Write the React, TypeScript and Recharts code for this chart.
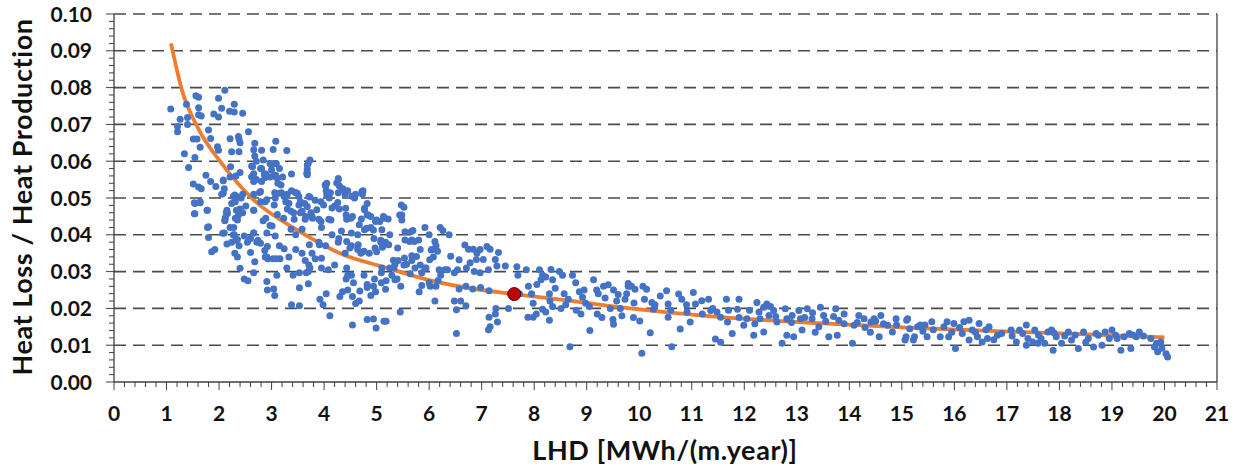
import { ComposedChart, Line, ReferenceLine, Scatter, XAxis, YAxis } from "recharts";

// axis ticks (major); minor ticks are derived below
const xMajor = [0, 1, 2, 3, 4, 5, 6, 7, 8, 9, 10, 11, 12, 13, 14, 15, 16, 17, 18, 19, 20, 21];
const yMajor = [0, 0.01, 0.02, 0.03, 0.04, 0.05, 0.06, 0.07, 0.08, 0.09, 0.1];

// LHD [MWh/(m.year)] vs heat loss ratio
const cloudSteep: [number, number][] = [
  [1.08, 0.0742], [1.21, 0.0694], [1.21, 0.068], [1.26, 0.0714], [1.38, 0.0755], [1.4, 0.0719], [1.4, 0.07],
  [1.34, 0.062], [1.42, 0.0583], [1.51, 0.066], [1.56, 0.0778], [1.61, 0.0774], [1.61, 0.0745], [1.61, 0.0726],
  [1.66, 0.0723], [1.54, 0.061], [1.58, 0.066], [1.64, 0.0638], [1.51, 0.0538], [1.61, 0.053], [1.66, 0.0525],
  [1.75, 0.0562], [1.8, 0.0685], [1.84, 0.0662], [1.84, 0.0545], [1.94, 0.0531], [1.97, 0.0639], [1.99, 0.063],
  [1.53, 0.0487], [1.64, 0.0487], [1.53, 0.0457], [1.78, 0.0467], [1.78, 0.042], [1.9, 0.0728], [1.99, 0.0771],
  [1.99, 0.072], [2.05, 0.0744], [2.11, 0.0793], [2.2, 0.0736], [2.29, 0.0755], [2.29, 0.0734], [2.45, 0.073],
  [2.21, 0.0661], [2.37, 0.0667], [2.38, 0.066], [2.4, 0.065], [2.24, 0.0626], [2.38, 0.0626], [2.56, 0.068],
  [2.68, 0.0649], [2.66, 0.0631], [2.68, 0.0614], [2.71, 0.06], [2.62, 0.0587], [2.81, 0.063], [2.22, 0.0585],
  [2.21, 0.0557], [2.4, 0.0569], [2.08, 0.0547], [2.08, 0.0513], [2.05, 0.051], [2.27, 0.0504], [2.33, 0.0504],
  [2.45, 0.051], [2.66, 0.051], [2.24, 0.0485], [2.33, 0.0467], [2.14, 0.046], [2.11, 0.0438], [2.51, 0.0478],
  [2.66, 0.0467], [2.77, 0.0515], [2.79, 0.049], [2.88, 0.049], [2.84, 0.0438], [2.79, 0.058], [2.66, 0.0566],
  [2.71, 0.055], [2.86, 0.0566], [2.87, 0.0555], [2.97, 0.0557],
  [1.54, 0.0485], [1.64, 0.049], [1.54, 0.0457], [1.77, 0.0467], [1.8, 0.0422], [1.8, 0.0393], [1.86, 0.0354],
  [1.92, 0.036], [2.07, 0.0404], [2.11, 0.044], [2.16, 0.0458], [2.21, 0.042], [2.29, 0.04], [2.24, 0.038],
  [2.35, 0.0387], [2.35, 0.044], [2.37, 0.0454], [2.4, 0.047], [2.29, 0.0505], [2.48, 0.0397], [2.54, 0.038],
  [2.6, 0.039], [2.66, 0.0405], [2.72, 0.038], [2.79, 0.0377], [2.68, 0.0327], [2.6, 0.0352], [2.35, 0.034],
  [2.4, 0.0309], [2.48, 0.028], [2.55, 0.0275], [2.66, 0.0297], [2.87, 0.0357], [2.88, 0.034], [2.93, 0.0335],
  [2.91, 0.0273], [2.92, 0.025],
  [2.08, 0.0549], [2.1, 0.0525], [2.15, 0.0467], [2.12, 0.0447], [2.1, 0.0405], [2.15, 0.0375], [2.3, 0.0508],
  [2.31, 0.049], [2.32, 0.056], [2.42, 0.05], [2.45, 0.046], [2.31, 0.0445], [2.28, 0.042], [2.27, 0.04],
  [2.32, 0.0385], [2.38, 0.037], [2.3, 0.035], [2.62, 0.0558], [2.64, 0.0585], [2.66, 0.0545], [2.66, 0.0467],
  [2.66, 0.0405], [2.74, 0.0385], [2.84, 0.0603], [2.81, 0.058], [2.89, 0.0565], [2.81, 0.0545], [2.79, 0.0518],
  [2.91, 0.0495], [2.89, 0.0445], [2.91, 0.0405], [2.92, 0.0368], [2.91, 0.034],
];

const cloudKnee: [number, number][] = [
  [3.03, 0.0632], [3.08, 0.0654], [3.29, 0.0629], [2.97, 0.0594], [3.0, 0.059], [3.06, 0.0594], [3.08, 0.0562],
  [3.04, 0.056], [3.1, 0.0555], [3.12, 0.054], [3.38, 0.0565], [3.7, 0.0596], [3.68, 0.0578], [3.73, 0.0603],
  [3.68, 0.0563], [2.97, 0.0425], [3.06, 0.0514], [3.07, 0.05], [3.19, 0.0514], [3.3, 0.051], [3.27, 0.049],
  [3.38, 0.052], [3.45, 0.0515], [3.52, 0.0504], [3.55, 0.049], [3.63, 0.0485], [3.73, 0.0503], [4.02, 0.0535],
  [4.04, 0.052], [3.94, 0.049], [4.1, 0.05], [4.27, 0.0553], [4.29, 0.0533], [4.36, 0.0525], [4.45, 0.052],
  [4.6, 0.051], [4.74, 0.052], [4.2, 0.0478], [4.29, 0.047], [4.42, 0.0454], [4.54, 0.045], [4.71, 0.0443],
  [4.82, 0.0485], [4.89, 0.045], [5.13, 0.045], [3.3, 0.047], [3.42, 0.046], [3.55, 0.046], [3.65, 0.045],
  [3.75, 0.046], [3.23, 0.0445],
  [3.03, 0.0335], [3.04, 0.0253], [3.06, 0.0235], [3.1, 0.029], [3.16, 0.0335], [3.29, 0.031], [3.41, 0.029],
  [3.53, 0.0297], [3.53, 0.0256], [3.38, 0.021], [3.53, 0.0207], [3.66, 0.0297], [3.73, 0.031], [3.83, 0.0335],
  [3.95, 0.031], [3.92, 0.0225], [3.98, 0.021], [4.11, 0.018], [4.3, 0.0232], [4.35, 0.0245], [4.42, 0.028],
  [4.45, 0.029], [4.54, 0.0232], [4.6, 0.0213], [4.54, 0.0155], [4.67, 0.022], [4.82, 0.0265], [4.82, 0.0257],
  [4.89, 0.0235], [4.98, 0.0245], [4.82, 0.017], [4.94, 0.0171], [4.99, 0.0147], [5.14, 0.0165], [5.18, 0.0275],
  [4.96, 0.028],
  [3.0, 0.0576], [3.09, 0.0594], [3.15, 0.058], [3.21, 0.0557], [3.18, 0.0535], [3.15, 0.0513], [3.05, 0.0481],
  [3.11, 0.0455], [3.01, 0.0424], [3.07, 0.0397], [3.15, 0.037], [3.24, 0.0362], [3.09, 0.0335], [3.24, 0.0504],
  [3.33, 0.0486], [3.37, 0.0464], [3.43, 0.0442], [3.49, 0.0513], [3.52, 0.0481], [3.58, 0.0464], [3.64, 0.0442],
  [3.68, 0.0477], [3.71, 0.0504], [3.68, 0.059], [3.68, 0.0567], [3.37, 0.0415], [3.46, 0.04], [3.58, 0.0415],
  [3.77, 0.045], [3.86, 0.0468], [3.9, 0.0442], [4.03, 0.0533], [4.05, 0.0508], [3.95, 0.042], [4.09, 0.0442],
  [4.15, 0.0473], [4.24, 0.0541], [4.27, 0.0514], [4.4, 0.0509], [4.43, 0.0442], [4.33, 0.041], [4.15, 0.04],
  [4.27, 0.038], [3.9, 0.038], [4.03, 0.037], [3.77, 0.035], [3.58, 0.035], [3.46, 0.036], [3.64, 0.033],
  [3.33, 0.034], [4.52, 0.0405], [4.58, 0.05], [4.73, 0.051], [4.77, 0.0468], [4.84, 0.0454], [4.64, 0.04],
  [4.77, 0.0414], [4.89, 0.042], [5.0, 0.044], [5.1, 0.0414], [4.95, 0.039], [5.08, 0.038], [4.64, 0.036],
  [4.52, 0.037], [4.4, 0.035], [4.7, 0.035], [4.86, 0.035], [5.0, 0.0354], [5.11, 0.0368],
  [3.67, 0.0567], [4.05, 0.054], [4.27, 0.055], [4.35, 0.0523], [4.12, 0.0514], [4.53, 0.0505], [4.72, 0.0518],
  [3.83, 0.0494], [3.99, 0.0481], [4.26, 0.0488], [4.41, 0.0472], [4.77, 0.0472], [4.82, 0.0454], [4.98, 0.0436],
  [5.15, 0.0445], [5.47, 0.0481], [5.44, 0.0454], [3.78, 0.0445], [3.94, 0.0436], [4.13, 0.044], [4.51, 0.0445],
  [4.67, 0.0427], [4.81, 0.0418], [4.94, 0.0413], [3.72, 0.0373], [3.91, 0.0373], [4.28, 0.039], [4.43, 0.0382],
  [4.49, 0.0364], [4.65, 0.0373], [4.76, 0.0355], [4.97, 0.0364], [5.23, 0.0373], [5.4, 0.0364], [5.66, 0.0409],
  [5.72, 0.0382], [5.53, 0.0337], [5.76, 0.0341], [6.04, 0.0359], [6.16, 0.0355], [6.01, 0.0332], [3.71, 0.0318],
  [3.7, 0.03], [3.95, 0.0336], [4.08, 0.0305], [4.2, 0.0318], [4.43, 0.031], [4.52, 0.029], [4.56, 0.027],
  [4.76, 0.029], [4.94, 0.026], [5.1, 0.031], [5.33, 0.031], [5.39, 0.028], [5.46, 0.026], [5.52, 0.0318],
  [5.94, 0.031], [6.0, 0.027], [6.17, 0.0276], [6.3, 0.0305], [3.7, 0.0267], [4.04, 0.024], [4.45, 0.025],
  [4.68, 0.0247], [5.17, 0.0252], [5.81, 0.0245],
];

const cloudMiddle: [number, number][] = [
  [5.52, 0.0475], [5.48, 0.0454], [5.48, 0.044], [5.22, 0.0443], [5.06, 0.0436], [5.25, 0.04], [5.08, 0.0385],
  [5.17, 0.038], [5.11, 0.0366], [5.32, 0.0331], [5.41, 0.033], [5.35, 0.032], [5.25, 0.031], [5.09, 0.0297],
  [5.29, 0.029], [5.35, 0.0278], [5.09, 0.027], [5.45, 0.019], [5.18, 0.0165], [5.54, 0.0408], [5.54, 0.0386],
  [5.63, 0.0382], [5.69, 0.0412], [5.67, 0.0386], [5.8, 0.0386], [5.92, 0.042], [6.0, 0.04], [6.21, 0.042],
  [6.26, 0.0412], [6.38, 0.04], [6.11, 0.0382], [6.05, 0.036], [6.08, 0.034], [6.13, 0.037], [5.83, 0.036],
  [5.67, 0.0343], [5.67, 0.033], [5.83, 0.0318], [5.92, 0.031], [5.73, 0.031], [5.57, 0.032], [5.64, 0.0294],
  [5.86, 0.0297], [5.86, 0.0262], [6.02, 0.026], [6.13, 0.026], [6.19, 0.0305], [6.22, 0.029], [6.35, 0.0305],
  [6.41, 0.0342], [6.48, 0.0297], [6.54, 0.0305], [6.57, 0.0332], [6.68, 0.0372], [6.75, 0.0361], [6.84, 0.0361],
  [6.91, 0.035], [6.97, 0.036], [7.1, 0.0368], [7.16, 0.0361], [7.03, 0.0333], [6.9, 0.0333], [6.78, 0.0324],
  [6.71, 0.031], [6.86, 0.03], [6.97, 0.0297], [7.13, 0.0305], [7.26, 0.0333], [7.32, 0.0352], [7.29, 0.0315],
  [7.45, 0.0315], [6.7, 0.026], [6.83, 0.0253], [6.98, 0.0257], [7.14, 0.0248], [6.57, 0.0253], [6.48, 0.022],
  [6.6, 0.022], [6.7, 0.0207], [6.52, 0.0132], [6.11, 0.022], [6.52, 0.0196], [7.14, 0.0176], [7.26, 0.0185],
  [7.3, 0.0163], [7.16, 0.015], [7.13, 0.0142], [7.27, 0.02], [7.51, 0.02], [7.67, 0.0313], [7.69, 0.029],
  [7.72, 0.024], [7.85, 0.0305], [7.89, 0.026], [7.95, 0.024], [7.98, 0.0214], [7.88, 0.0176], [7.98, 0.0176],
  [8.04, 0.0185], [8.1, 0.0305], [8.16, 0.029], [8.13, 0.0278], [8.22, 0.0285], [8.32, 0.0306], [8.35, 0.0278],
  [8.29, 0.024], [8.16, 0.0198], [8.22, 0.019], [8.29, 0.0168], [8.35, 0.0205], [8.48, 0.03], [8.54, 0.029],
  [8.57, 0.024], [8.51, 0.02], [8.6, 0.021], [8.68, 0.0096], [8.73, 0.029], [8.79, 0.027], [8.86, 0.0245],
  [8.92, 0.023], [8.98, 0.0214], [8.89, 0.0185], [9.06, 0.014], [9.13, 0.0278], [9.19, 0.025], [9.22, 0.024],
  [9.32, 0.026], [9.41, 0.0264], [9.51, 0.025], [9.51, 0.0157], [9.29, 0.0175], [9.45, 0.02], [9.57, 0.022],
  [9.64, 0.02], [9.79, 0.026], [9.76, 0.024],
  [8.05, 0.0265], [8.4, 0.0255], [8.65, 0.0225], [8.95, 0.025], [9.05, 0.0205], [9.35, 0.0228], [9.6, 0.0238],
  [8.3, 0.022], [8.8, 0.0195], [9.2, 0.0185], [9.5, 0.017],
];

const cloudTail: [number, number][] = [
  [9.79, 0.0268], [9.85, 0.026], [9.92, 0.0252], [10.07, 0.026], [10.14, 0.0252], [9.73, 0.0225], [9.67, 0.018],
  [9.89, 0.0175], [10.01, 0.0166], [10.05, 0.0078], [10.21, 0.0134], [10.24, 0.0216], [10.27, 0.0198],
  [10.4, 0.0234], [10.52, 0.0248], [10.55, 0.0212], [10.55, 0.0176], [10.62, 0.0096], [10.75, 0.0239],
  [10.81, 0.0225], [10.78, 0.0144], [10.91, 0.019], [10.97, 0.0163], [11.03, 0.0243], [11.07, 0.0212],
  [11.19, 0.0221], [11.32, 0.0225], [11.36, 0.0194], [11.45, 0.0117], [11.55, 0.0108], [11.48, 0.019],
  [11.55, 0.0176], [11.66, 0.0225], [11.68, 0.0163], [11.77, 0.0132], [11.87, 0.0198], [11.9, 0.0225],
  [11.99, 0.0154], [12.05, 0.0172], [12.18, 0.0127], [12.24, 0.0216], [12.28, 0.019], [12.37, 0.0203],
  [12.43, 0.0212], [12.47, 0.0181], [12.37, 0.0136], [12.56, 0.0194], [12.62, 0.0163], [12.72, 0.0105],
  [12.78, 0.0199], [12.81, 0.0172], [12.81, 0.0127], [12.91, 0.0181], [12.94, 0.0123], [13.04, 0.0194],
  [13.07, 0.0172], [13.1, 0.0141], [13.2, 0.0199], [13.29, 0.0172], [13.42, 0.015], [13.45, 0.0203],
  [13.51, 0.0181], [13.61, 0.0123], [13.74, 0.0199], [13.77, 0.0127], [13.8, 0.0168], [13.9, 0.0185],
  [14.06, 0.0105], [14.09, 0.0154], [14.18, 0.0181], [14.28, 0.0172], [14.41, 0.0163], [14.47, 0.0172],
  [14.57, 0.0123], [14.6, 0.0181], [14.73, 0.0154], [14.82, 0.0136], [14.89, 0.0172], [15.11, 0.0172],
  [15.08, 0.0123], [15.24, 0.0123], [15.3, 0.015],
  [9.9, 0.0215], [10.1, 0.0225], [10.3, 0.021], [10.6, 0.0195], [10.9, 0.021], [11.2, 0.0185], [11.4, 0.02],
  [11.7, 0.0195], [11.9, 0.0175], [12.1, 0.0195], [12.3, 0.0172], [12.5, 0.0205], [12.6, 0.0178], [12.9, 0.0162],
  [12.2, 0.0158], [13.15, 0.0175], [13.3, 0.0188], [13.55, 0.0165], [13.7, 0.0178], [13.9, 0.0158],
  [13.35, 0.0135], [14.15, 0.0162], [14.3, 0.0148], [14.5, 0.0165], [14.65, 0.0158], [14.9, 0.0155],
  [14.4, 0.0135],
];

const cloudEnd: [number, number][] = [
  [15.09, 0.0168], [15.06, 0.0114], [15.22, 0.0114], [15.35, 0.0155], [15.44, 0.0155], [15.48, 0.0123],
  [15.57, 0.0164], [15.73, 0.0123], [15.89, 0.0123], [15.86, 0.0164], [15.99, 0.0159], [16.02, 0.0091],
  [16.15, 0.0132], [16.18, 0.0164], [16.28, 0.0168], [16.28, 0.0114], [16.34, 0.0141], [16.44, 0.0123],
  [16.47, 0.0159], [16.53, 0.0109], [16.63, 0.0118], [16.66, 0.015], [16.82, 0.0127], [17.08, 0.0141],
  [17.18, 0.0109], [17.24, 0.0141], [17.37, 0.0155], [17.4, 0.0118], [17.37, 0.01], [17.49, 0.0109],
  [17.53, 0.0141], [17.59, 0.0105], [17.72, 0.0105], [17.78, 0.0136], [17.85, 0.0141], [17.88, 0.0086],
  [17.94, 0.0123], [18.04, 0.0105], [18.17, 0.0136], [18.23, 0.0114], [18.36, 0.0091], [18.46, 0.0136],
  [18.55, 0.0118], [18.65, 0.0095], [18.74, 0.0127], [18.81, 0.01], [18.87, 0.0136], [19.0, 0.0141],
  [19.07, 0.0127], [19.17, 0.0086], [19.23, 0.0123], [19.33, 0.0132], [19.36, 0.0091], [19.46, 0.0123],
  [19.52, 0.0136], [19.74, 0.0118], [19.81, 0.0095], [19.87, 0.0082], [19.93, 0.0109], [20.03, 0.0077],
  [20.06, 0.0068],
  [15.15, 0.0145], [15.4, 0.0138], [15.6, 0.0142], [15.8, 0.015], [15.95, 0.0135], [16.1, 0.0148],
  [16.4, 0.0135], [16.6, 0.0142], [16.9, 0.0132], [16.75, 0.0115], [17.1, 0.0125], [17.3, 0.0132],
  [17.6, 0.0128], [17.9, 0.0133], [17.65, 0.0118], [18.1, 0.0125], [18.3, 0.0128], [18.5, 0.0108],
  [18.7, 0.0132], [18.95, 0.0118], [19.1, 0.0118], [19.4, 0.0128], [19.6, 0.0125], [19.85, 0.0105],
  [19.95, 0.0092],
];

// fitted trend curve
const trendX = [1.085, 1.29, 1.61, 2.05, 2.62, 3.5, 4.3, 5.2, 6.0, 7.0, 7.62, 8.55, 9.7, 11.5, 13.4, 15.2, 17.06, 18.77, 20.0];
const trendY = [0.092, 0.0795, 0.0687, 0.0594, 0.05, 0.0412, 0.035, 0.031, 0.0277, 0.025, 0.0239, 0.0223, 0.0202, 0.0177, 0.016, 0.0147, 0.0137, 0.0128, 0.0121];

// highlighted case
const markX = 7.62;
const markY = 0.0239;

const points = [...cloudSteep, ...cloudKnee, ...cloudMiddle, ...cloudTail, ...cloudEnd].map(([x, y]) => ({ x, y }));
const trend = trendX.map((x, i) => ({ x, y: trendY[i] }));
const mark = [{ x: markX, y: markY }];

const xTicks = xMajor.flatMap((v) =>
  v < 21 ? [0, 1, 2, 3, 4].map((k) => Math.round((v + k * 0.2) * 10) / 10) : [v]
);
const yTicks = yMajor.flatMap((v) =>
  v < 0.1 ? [0, 1, 2, 3, 4].map((k) => Math.round((v + k * 0.002) * 1000) / 1000) : [v]
);

const AXIS = "#404040";
const FONT = "Lato, 'Open Sans', sans-serif";

function XTick(props: any) {
  const { x, y, payload } = props;
  const v = payload.value as number;
  const major = Number.isInteger(v);
  const axisY = y - 24;
  return (
    <g>
      <line x1={x} x2={x} y1={axisY} y2={axisY + (major ? 8 : 5)} stroke={AXIS} strokeWidth={1} />
      {major && (
        <text x={x} y={y} dy="0.71em" textAnchor="middle" fontSize={21} fontWeight={700} fontFamily={FONT} fill="#111">
          {v}
        </text>
      )}
    </g>
  );
}

function YTick(props: any) {
  const { x, y, payload } = props;
  const v = payload.value as number;
  const major = Math.abs(v * 100 - Math.round(v * 100)) < 1e-6;
  const axisX = x + 22;
  return (
    <g>
      <line x1={axisX - (major ? 8 : 5)} x2={axisX} y1={y} y2={y} stroke={AXIS} strokeWidth={1} />
      {major && (
        <text x={x} y={y} dy="0.36em" textAnchor="end" fontSize={21} fontWeight={700} fontFamily={FONT} fill="#111">
          {v.toFixed(2)}
        </text>
      )}
    </g>
  );
}

const blueDot = (p: any) => <circle cx={p.cx} cy={p.cy} r={3.5} fill="#4472C4" />;
const redDot = (p: any) => <circle cx={p.cx} cy={p.cy} r={6.5} fill="#C00000" stroke="#5a0000" strokeWidth={1} />;

export default function App() {
  return (
    <div style={{ position: "relative", width: 1239, height: 469, background: "#fff" }}>
      <style>{"body{margin:0}"}</style>
      <ComposedChart width={1239} height={469} margin={{ top: 14, right: 22, bottom: 0, left: 0 }}>
        <XAxis
          type="number"
          dataKey="x"
          domain={[0, 21]}
          ticks={xTicks}
          interval={0}
          tick={<XTick />}
          tickLine={false}
          tickSize={8}
          tickMargin={16}
          axisLine={{ stroke: AXIS, strokeWidth: 1.3 }}
          height={87}
          allowDataOverflow
        />
        <YAxis
          type="number"
          dataKey="y"
          domain={[0, 0.1]}
          ticks={yTicks}
          interval={0}
          tick={<YTick />}
          tickLine={false}
          tickSize={8}
          tickMargin={14}
          axisLine={{ stroke: AXIS, strokeWidth: 1.3 }}
          width={114}
          allowDataOverflow
        />
        {yMajor.slice(1).map((v) => (
          <ReferenceLine key={v} y={v} stroke="#4a4a4a" strokeWidth={1.6} strokeDasharray="12 7" />
        ))}
        <ReferenceLine x={21} stroke={AXIS} strokeWidth={1.3} />
        <Scatter data={points} fill="#4472C4" shape={blueDot} isAnimationActive={false} />
        <Line
          data={trend}
          dataKey="y"
          type="monotone"
          stroke="#ED7D31"
          strokeWidth={3.8}
          dot={false}
          activeDot={false}
          isAnimationActive={false}
        />
        <Scatter data={mark} fill="#C00000" shape={redDot} isAnimationActive={false} />
      </ComposedChart>
      <div
        style={{
          position: "absolute",
          left: 21,
          top: 197,
          transform: "translate(-50%, -50%) rotate(-90deg)",
          whiteSpace: "nowrap",
          fontFamily: FONT,
          fontWeight: 700,
          fontSize: 27,
          letterSpacing: 0.6,
          color: "#111",
        }}
      >
        Heat Loss / Heat Production
      </div>
      <div
        style={{
          position: "absolute",
          left: 665,
          top: 449,
          transform: "translate(-50%, -50%)",
          whiteSpace: "nowrap",
          fontFamily: FONT,
          fontWeight: 700,
          fontSize: 27,
          letterSpacing: 0.6,
          color: "#111",
        }}
      >
        LHD [MWh/(m.year)]
      </div>
    </div>
  );
}
